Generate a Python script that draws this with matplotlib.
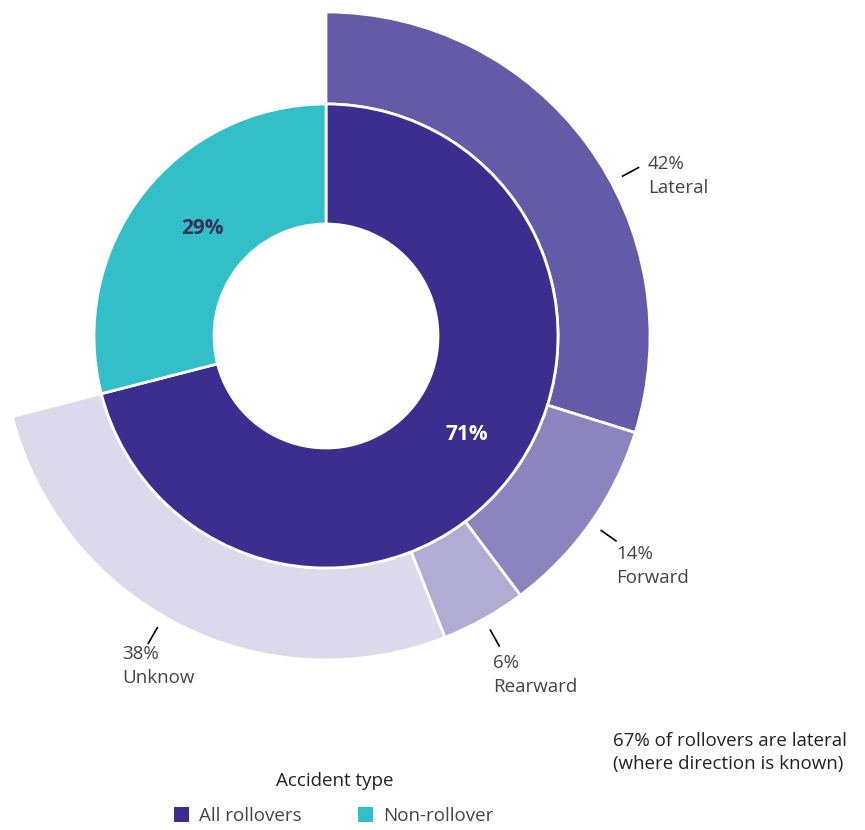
import numpy as np
import matplotlib.pyplot as plt
from matplotlib.patches import Patch

plt.rcParams['font.family'] = ['Open Sans', 'DejaVu Sans']

# accident split (inner ring) and rollover direction split (outer ring)
accident_types = ['All rollovers', 'Non-rollover']
accident_share = [71, 29]
directions = ['Lateral', 'Forward', 'Rearward', 'Unknow']
direction_share = [42, 14, 6, 38]

inner_colors = ['#3c2e8f', '#32bfc7']
outer_colors = ['#635aa8', '#8b84be', '#b1acd4', '#dcd9ec']

fig = plt.figure(figsize=(8.65, 8.3), dpi=100)
ax = fig.add_axes([0, 0, 1, 1])

cx, cy = 326, 336
r_outer, r_mid, r_hole = 324, 232, 112

# outer ring only covers the rollover part of the circle
rollover = accident_share[0]
outer_vals = [s * rollover / 100 for s in direction_share] + [accident_share[1]]
outer, _ = ax.pie(outer_vals, colors=outer_colors + ['none'], radius=r_outer, center=(cx, cy),
                  startangle=270, counterclock=True,
                  wedgeprops=dict(width=r_outer - r_mid, edgecolor='white', linewidth=2))
outer[-1].set_edgecolor('none')
ax.pie(accident_share, colors=inner_colors, radius=r_mid, center=(cx, cy),
       startangle=270, counterclock=True,
       wedgeprops=dict(width=r_mid - r_hole, edgecolor='white', linewidth=2))

ax.set_xlim(0, 865)
ax.set_ylim(830, 0)
ax.set_aspect('equal')
ax.axis('off')

# percentage labels inside the inner ring
ax.text(202, 228, f'{accident_share[1]}%', ha='center', va='center', fontsize=15,
        fontweight='bold', color='#37325a')
ax.text(467, 434, f'{accident_share[0]}%', ha='center', va='center', fontsize=15,
        fontweight='bold', color='white')

# outer labels: tick mark on the slice direction, text next to it
cum = np.cumsum([0] + outer_vals[:-1])
mid = [(cum[i] + outer_vals[i] / 2) * 3.6 for i in range(len(directions))]
mid[0] += 8
mid[3] += 3
text_pos = [(648, 155), (616, 545), (493, 654), (122, 645)]
for i, name in enumerate(directions):
    a = np.deg2rad(mid[i])
    r0, r1 = 337, 355
    ax.plot([cx + r0 * np.sin(a), cx + r1 * np.sin(a)],
            [cy - r0 * np.cos(a), cy - r1 * np.cos(a)], color='black', lw=1.2)
    tx, ty = text_pos[i]
    ax.text(tx, ty, f'{direction_share[i]}%\n{name}', ha='left', va='top', fontsize=13.5,
            color='#444444', linespacing=1.45)

lateral_known = int(direction_share[0] / sum(direction_share[:3]) * 100)
ax.text(613, 732, f'{lateral_known}% of rollovers are lateral\n(where direction is known)',
        ha='left', va='top', fontsize=13.5, color='#222222', linespacing=1.35)

ax.text(335, 781, 'Accident type', ha='center', va='center', fontsize=13.5, color='#222222')
handles = [Patch(facecolor=c, edgecolor='none') for c in inner_colors]
leg = fig.legend(handles, accident_types, ncol=2,
                 loc='center', bbox_to_anchor=(334 / 865, 1 - 816 / 830),
                 frameon=False, fontsize=13.5,
                 handlelength=0.8, handleheight=0.8, handletextpad=0.55,
                 columnspacing=3.0, borderpad=0)
for t in leg.get_texts():
    t.set_color('#444444')

fig.savefig('out.png', dpi=100)
